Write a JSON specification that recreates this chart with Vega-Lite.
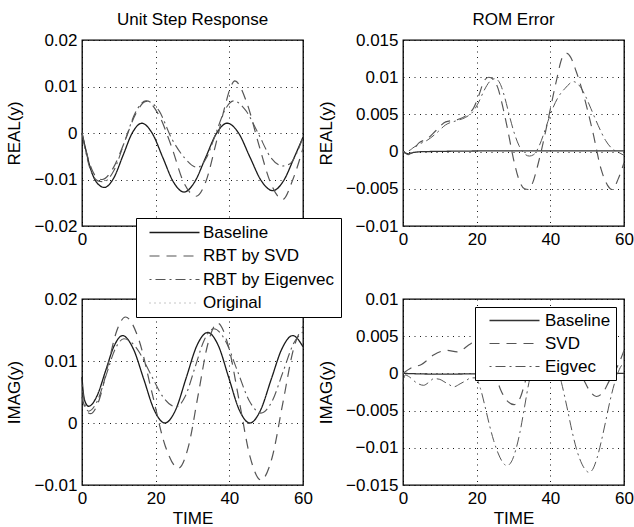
{
  "$schema": "https://vega.github.io/schema/vega-lite/v6.json",
  "padding": {"left": 5, "top": 10, "right": 0, "bottom": 0},
  "background": "white",
  "config": {
    "font": "Liberation Sans",
    "view": {"stroke": "#000", "strokeWidth": 1.3},
    "axis": {"grid": true, "gridColor": "#000", "gridDash": [1, 4.5], "gridWidth": 1, "gridOpacity": 0.9, "ticks": false, "tickSize": 0, "domain": false, "labelFontSize": 17, "labelColor": "#000", "labelPadding": 5, "labelFlush": false, "labelOverlap": false, "titleFontSize": 17, "titleFontWeight": "normal", "titleColor": "#000", "labelExpr": "format(datum.value, '~g')"},
    "axisY": {"titlePadding": 10},
    "axisX": {"titlePadding": 4},
    "title": {"fontSize": 17, "fontWeight": "normal", "color": "#000", "offset": 2},
    "legend": {"title": null, "labelFontSize": 17, "labelColor": "#000", "fillColor": "white", "strokeColor": "#000", "symbolType": "M-5,0H5", "symbolSize": 100, "symbolStrokeWidth": 1.2, "cornerRadius": 0}
  },
  "datasets": {
    "ul": [
      {"s":"Baseline","t":0,"v":0},{"s":"Baseline","t":1,"v":-0.0035},{"s":"Baseline","t":2,"v":-0.0068},{"s":"Baseline","t":3,"v":-0.0092},{"s":"Baseline","t":4.5,"v":-0.0111},{"s":"Baseline","t":6.1,"v":-0.0117},{"s":"Baseline","t":8.6,"v":-0.0097},{"s":"Baseline","t":11.15,"v":-0.0048},{"s":"Baseline","t":13.7,"v":0.0001},{"s":"Baseline","t":16.2,"v":0.0021},{"s":"Baseline","t":19.1,"v":-0.0001},{"s":"Baseline","t":21.95,"v":-0.0053},{"s":"Baseline","t":24.8,"v":-0.0105},{"s":"Baseline","t":27.7,"v":-0.0127},{"s":"Baseline","t":30.6,"v":-0.0105},{"s":"Baseline","t":33.55,"v":-0.0053},{"s":"Baseline","t":36.5,"v":-0.0001},{"s":"Baseline","t":39.4,"v":0.0021},{"s":"Baseline","t":42.5,"v":0},{"s":"Baseline","t":45.6,"v":-0.0052},{"s":"Baseline","t":48.7,"v":-0.0103},{"s":"Baseline","t":51.8,"v":-0.0124},{"s":"Baseline","t":54.7,"v":-0.0103},{"s":"Baseline","t":57.65,"v":-0.0052},{"s":"Baseline","t":60,"v":-0.0009},
      {"s":"RBT by SVD","t":0,"v":0},{"s":"RBT by SVD","t":1,"v":-0.0035},{"s":"RBT by SVD","t":2,"v":-0.0064},{"s":"RBT by SVD","t":3,"v":-0.0084},{"s":"RBT by SVD","t":4.2,"v":-0.0097},{"s":"RBT by SVD","t":5.5,"v":-0.01},{"s":"RBT by SVD","t":8.5,"v":-0.0075},{"s":"RBT by SVD","t":11.5,"v":-0.002},{"s":"RBT by SVD","t":14.5,"v":0.004},{"s":"RBT by SVD","t":17.5,"v":0.0068},{"s":"RBT by SVD","t":20.9,"v":0.0038},{"s":"RBT by SVD","t":24.25,"v":-0.0028},{"s":"RBT by SVD","t":27.6,"v":-0.0106},{"s":"RBT by SVD","t":31,"v":-0.0136},{"s":"RBT by SVD","t":33.6,"v":-0.0105},{"s":"RBT by SVD","t":36.3,"v":-0.0025},{"s":"RBT by SVD","t":38.9,"v":0.006},{"s":"RBT by SVD","t":40.3,"v":0.0098},{"s":"RBT by SVD","t":41.5,"v":0.0112},{"s":"RBT by SVD","t":44.75,"v":0.0065},{"s":"RBT by SVD","t":48,"v":-0.0025},{"s":"RBT by SVD","t":51.25,"v":-0.0108},{"s":"RBT by SVD","t":54.5,"v":-0.0143},{"s":"RBT by SVD","t":57.25,"v":-0.01},{"s":"RBT by SVD","t":60,"v":-0.0033},
      {"s":"RBT by Eigenvec","t":0,"v":0},{"s":"RBT by Eigenvec","t":1,"v":-0.004},{"s":"RBT by Eigenvec","t":2,"v":-0.0072},{"s":"RBT by Eigenvec","t":3,"v":-0.0092},{"s":"RBT by Eigenvec","t":4.3,"v":-0.0103},{"s":"RBT by Eigenvec","t":5.8,"v":-0.0105},{"s":"RBT by Eigenvec","t":8.7,"v":-0.008},{"s":"RBT by Eigenvec","t":11.6,"v":-0.0018},{"s":"RBT by Eigenvec","t":14.5,"v":0.0044},{"s":"RBT by Eigenvec","t":17.4,"v":0.0069},{"s":"RBT by Eigenvec","t":20.9,"v":0.0048},{"s":"RBT by Eigenvec","t":24.35,"v":-0.0012},{"s":"RBT by Eigenvec","t":27.8,"v":-0.0053},{"s":"RBT by Eigenvec","t":31.3,"v":-0.0074},{"s":"RBT by Eigenvec","t":33.8,"v":-0.0053},{"s":"RBT by Eigenvec","t":36.25,"v":-0.0003},{"s":"RBT by Eigenvec","t":38.7,"v":0.0048},{"s":"RBT by Eigenvec","t":41.2,"v":0.0069},{"s":"RBT by Eigenvec","t":44.5,"v":0.0048},{"s":"RBT by Eigenvec","t":47.85,"v":-0.0001},{"s":"RBT by Eigenvec","t":51.2,"v":-0.0052},{"s":"RBT by Eigenvec","t":54.5,"v":-0.0071},{"s":"RBT by Eigenvec","t":56.5,"v":-0.0066},{"s":"RBT by Eigenvec","t":58,"v":-0.0048},{"s":"RBT by Eigenvec","t":60,"v":-0.0009}
    ],
    "ur": [
      {"s":"Baseline","t":0,"v":0},{"s":"Baseline","t":1.5,"v":-0.0003},{"s":"Baseline","t":3,"v":-0.0001},{"s":"Baseline","t":6,"v":0},{"s":"Baseline","t":30,"v":0.0001},{"s":"Baseline","t":60,"v":0.0001},
      {"s":"SVD","t":0,"v":0},{"s":"SVD","t":1.5,"v":-0.0004},{"s":"SVD","t":3,"v":0.0004},{"s":"SVD","t":4.4,"v":0.0012},{"s":"SVD","t":6.5,"v":0.0017},{"s":"SVD","t":8.9,"v":0.0028},{"s":"SVD","t":11.6,"v":0.004},{"s":"SVD","t":14.8,"v":0.0043},{"s":"SVD","t":17,"v":0.0048},{"s":"SVD","t":19.2,"v":0.0059},{"s":"SVD","t":20.7,"v":0.0077},{"s":"SVD","t":22,"v":0.0095},{"s":"SVD","t":23.3,"v":0.01},{"s":"SVD","t":24.5,"v":0.0097},{"s":"SVD","t":25.8,"v":0.0085},{"s":"SVD","t":27,"v":0.0062},{"s":"SVD","t":28.4,"v":0.003},{"s":"SVD","t":30,"v":-0.001},{"s":"SVD","t":31.5,"v":-0.0038},{"s":"SVD","t":33,"v":-0.005},{"s":"SVD","t":34,"v":-0.0051},{"s":"SVD","t":35.2,"v":-0.0042},{"s":"SVD","t":36.5,"v":-0.002},{"s":"SVD","t":37.5,"v":0},{"s":"SVD","t":39.7,"v":0.005},{"s":"SVD","t":41.5,"v":0.0092},{"s":"SVD","t":43.4,"v":0.0128},{"s":"SVD","t":44.5,"v":0.0132},{"s":"SVD","t":45.5,"v":0.0127},{"s":"SVD","t":47,"v":0.0108},{"s":"SVD","t":48.8,"v":0.008},{"s":"SVD","t":51.5,"v":0.0027},{"s":"SVD","t":53.8,"v":-0.0024},{"s":"SVD","t":55.5,"v":-0.0045},{"s":"SVD","t":56.8,"v":-0.0051},{"s":"SVD","t":58.4,"v":-0.0037},{"s":"SVD","t":60,"v":-0.0015},
      {"s":"Eigvec","t":0,"v":0},{"s":"Eigvec","t":1.5,"v":0.0001},{"s":"Eigvec","t":3,"v":0.0006},{"s":"Eigvec","t":4.4,"v":0.001},{"s":"Eigvec","t":6.5,"v":0.0015},{"s":"Eigvec","t":8.9,"v":0.0024},{"s":"Eigvec","t":11.6,"v":0.0036},{"s":"Eigvec","t":14.8,"v":0.0042},{"s":"Eigvec","t":17,"v":0.0046},{"s":"Eigvec","t":19.2,"v":0.0055},{"s":"Eigvec","t":20.7,"v":0.0068},{"s":"Eigvec","t":22,"v":0.0082},{"s":"Eigvec","t":23.5,"v":0.0094},{"s":"Eigvec","t":25,"v":0.0098},{"s":"Eigvec","t":26.3,"v":0.0092},{"s":"Eigvec","t":27.5,"v":0.0075},{"s":"Eigvec","t":28.8,"v":0.005},{"s":"Eigvec","t":30.2,"v":0.0025},{"s":"Eigvec","t":31.5,"v":0.0008},{"s":"Eigvec","t":32.8,"v":-0.0002},{"s":"Eigvec","t":34.3,"v":-0.0006},{"s":"Eigvec","t":35.5,"v":-0.0004},{"s":"Eigvec","t":37,"v":0.0008},{"s":"Eigvec","t":38.5,"v":0.0028},{"s":"Eigvec","t":40,"v":0.005},{"s":"Eigvec","t":42,"v":0.0072},{"s":"Eigvec","t":44,"v":0.0085},{"s":"Eigvec","t":46.3,"v":0.0094},{"s":"Eigvec","t":48,"v":0.0088},{"s":"Eigvec","t":49.5,"v":0.0075},{"s":"Eigvec","t":51,"v":0.0058},{"s":"Eigvec","t":53,"v":0.0035},{"s":"Eigvec","t":55,"v":0.0015},{"s":"Eigvec","t":57,"v":0.0003},{"s":"Eigvec","t":58.5,"v":-0.0001},{"s":"Eigvec","t":60,"v":-0.0005}
    ],
    "ll": [
      {"s":"Baseline","t":0,"v":0.0074},{"s":"Baseline","t":0.3,"v":0.0052},{"s":"Baseline","t":0.8,"v":0.0035},{"s":"Baseline","t":1.8,"v":0.0027},{"s":"Baseline","t":4.1,"v":0.0044},{"s":"Baseline","t":6.4,"v":0.0084},{"s":"Baseline","t":8.7,"v":0.0124},{"s":"Baseline","t":11,"v":0.0141},{"s":"Baseline","t":13.9,"v":0.012},{"s":"Baseline","t":16.75,"v":0.0071},{"s":"Baseline","t":19.6,"v":0.0021},{"s":"Baseline","t":22.5,"v":0},{"s":"Baseline","t":25.4,"v":0.0021},{"s":"Baseline","t":28.3,"v":0.0073},{"s":"Baseline","t":31.2,"v":0.0125},{"s":"Baseline","t":34.1,"v":0.0146},{"s":"Baseline","t":37,"v":0.0125},{"s":"Baseline","t":39.85,"v":0.0073},{"s":"Baseline","t":42.7,"v":0.0021},{"s":"Baseline","t":45.6,"v":0},{"s":"Baseline","t":48.5,"v":0.0021},{"s":"Baseline","t":51.4,"v":0.0071},{"s":"Baseline","t":54.3,"v":0.012},{"s":"Baseline","t":57.2,"v":0.0141},{"s":"Baseline","t":60,"v":0.0123},
      {"s":"RBT by SVD","t":0,"v":0.0042},{"s":"RBT by SVD","t":1,"v":0.0022},{"s":"RBT by SVD","t":2.3,"v":0.0015},{"s":"RBT by SVD","t":4.7,"v":0.0038},{"s":"RBT by SVD","t":7.05,"v":0.0093},{"s":"RBT by SVD","t":9.4,"v":0.0148},{"s":"RBT by SVD","t":11.8,"v":0.0171},{"s":"RBT by SVD","t":15.4,"v":0.0135},{"s":"RBT by SVD","t":19,"v":0.0049},{"s":"RBT by SVD","t":22.6,"v":-0.0037},{"s":"RBT by SVD","t":26.2,"v":-0.0073},{"s":"RBT by SVD","t":28.85,"v":-0.0039},{"s":"RBT by SVD","t":31.5,"v":0.0044},{"s":"RBT by SVD","t":34.15,"v":0.0127},{"s":"RBT by SVD","t":36.8,"v":0.0161},{"s":"RBT by SVD","t":39.75,"v":0.0124},{"s":"RBT by SVD","t":42.7,"v":0.0035},{"s":"RBT by SVD","t":45.65,"v":-0.0055},{"s":"RBT by SVD","t":48.6,"v":-0.0092},{"s":"RBT by SVD","t":51.6,"v":-0.0056},{"s":"RBT by SVD","t":54.55,"v":0.0033},{"s":"RBT by SVD","t":57.5,"v":0.0121},{"s":"RBT by SVD","t":60,"v":0.0156},
      {"s":"RBT by Eigenvec","t":0,"v":0.0062},{"s":"RBT by Eigenvec","t":0.8,"v":0.003},{"s":"RBT by Eigenvec","t":1.8,"v":0.0019},{"s":"RBT by Eigenvec","t":4.2,"v":0.0036},{"s":"RBT by Eigenvec","t":6.6,"v":0.0078},{"s":"RBT by Eigenvec","t":9,"v":0.0119},{"s":"RBT by Eigenvec","t":11.4,"v":0.0136},{"s":"RBT by Eigenvec","t":14.9,"v":0.012},{"s":"RBT by Eigenvec","t":18.45,"v":0.0081},{"s":"RBT by Eigenvec","t":22,"v":0.0042},{"s":"RBT by Eigenvec","t":25.5,"v":0.0026},{"s":"RBT by Eigenvec","t":28.1,"v":0.0044},{"s":"RBT by Eigenvec","t":30.65,"v":0.0089},{"s":"RBT by Eigenvec","t":33.2,"v":0.0134},{"s":"RBT by Eigenvec","t":35.8,"v":0.0152},{"s":"RBT by Eigenvec","t":39,"v":0.0132},{"s":"RBT by Eigenvec","t":42.2,"v":0.0084},{"s":"RBT by Eigenvec","t":45.4,"v":0.0036},{"s":"RBT by Eigenvec","t":48.6,"v":0.0016},{"s":"RBT by Eigenvec","t":51.6,"v":0.0035},{"s":"RBT by Eigenvec","t":54.55,"v":0.0082},{"s":"RBT by Eigenvec","t":57.5,"v":0.0129},{"s":"RBT by Eigenvec","t":60,"v":0.0147}
    ],
    "lr": [
      {"s":"Baseline","t":0,"v":0},{"s":"Baseline","t":10,"v":-0.0001},{"s":"Baseline","t":30,"v":0},{"s":"Baseline","t":60,"v":0},
      {"s":"SVD","t":0,"v":0},{"s":"SVD","t":2.5,"v":0.0008},{"s":"SVD","t":5,"v":0.0012},{"s":"SVD","t":8.4,"v":0.0025},{"s":"SVD","t":12,"v":0.0031},{"s":"SVD","t":14.7,"v":0.0029},{"s":"SVD","t":18.4,"v":0.004},{"s":"SVD","t":20.5,"v":0.0045},{"s":"SVD","t":22.5,"v":0.0032},{"s":"SVD","t":24.5,"v":0.0008},{"s":"SVD","t":26.5,"v":-0.0022},{"s":"SVD","t":28.5,"v":-0.0038},{"s":"SVD","t":30.2,"v":-0.0042},{"s":"SVD","t":31.8,"v":-0.0033},{"s":"SVD","t":33.5,"v":-0.0006},{"s":"SVD","t":35.5,"v":0.002},{"s":"SVD","t":38,"v":0.0038},{"s":"SVD","t":41,"v":0.0042},{"s":"SVD","t":44,"v":0.003},{"s":"SVD","t":46.5,"v":0.001},{"s":"SVD","t":48.8,"v":-0.0006},{"s":"SVD","t":50.5,"v":-0.0022},{"s":"SVD","t":52.5,"v":-0.0031},{"s":"SVD","t":54.5,"v":-0.0024},{"s":"SVD","t":56,"v":-0.001},{"s":"SVD","t":57.5,"v":0.0002},{"s":"SVD","t":59,"v":0.0018},{"s":"SVD","t":60,"v":0.0031},
      {"s":"Eigvec","t":0,"v":-0.0014},{"s":"Eigvec","t":0.6,"v":-0.0002},{"s":"Eigvec","t":1.5,"v":-0.0004},{"s":"Eigvec","t":3.8,"v":-0.0013},{"s":"Eigvec","t":5.6,"v":-0.0016},{"s":"Eigvec","t":7,"v":-0.0012},{"s":"Eigvec","t":8.4,"v":-0.0007},{"s":"Eigvec","t":10,"v":-0.0008},{"s":"Eigvec","t":11.1,"v":-0.0011},{"s":"Eigvec","t":12.5,"v":-0.0015},{"s":"Eigvec","t":13.8,"v":-0.0018},{"s":"Eigvec","t":15.5,"v":-0.0014},{"s":"Eigvec","t":17,"v":-0.001},{"s":"Eigvec","t":18.5,"v":-0.0006},{"s":"Eigvec","t":19.7,"v":-0.0006},{"s":"Eigvec","t":21,"v":-0.002},{"s":"Eigvec","t":22.2,"v":-0.0043},{"s":"Eigvec","t":23.4,"v":-0.0068},{"s":"Eigvec","t":24.6,"v":-0.009},{"s":"Eigvec","t":25.8,"v":-0.0107},{"s":"Eigvec","t":27,"v":-0.0119},{"s":"Eigvec","t":28.2,"v":-0.0124},{"s":"Eigvec","t":29.4,"v":-0.0119},{"s":"Eigvec","t":30.6,"v":-0.0103},{"s":"Eigvec","t":31.8,"v":-0.0078},{"s":"Eigvec","t":33,"v":-0.0045},{"s":"Eigvec","t":34.2,"v":-0.0012},{"s":"Eigvec","t":35.5,"v":0.0012},{"s":"Eigvec","t":37.5,"v":0.003},{"s":"Eigvec","t":39.5,"v":0.003},{"s":"Eigvec","t":41.5,"v":0.0012},{"s":"Eigvec","t":43,"v":-0.0012},{"s":"Eigvec","t":44.5,"v":-0.0045},{"s":"Eigvec","t":46,"v":-0.008},{"s":"Eigvec","t":47.3,"v":-0.0105},{"s":"Eigvec","t":48.6,"v":-0.0122},{"s":"Eigvec","t":49.6,"v":-0.013},{"s":"Eigvec","t":50.5,"v":-0.0133},{"s":"Eigvec","t":51.5,"v":-0.0129},{"s":"Eigvec","t":52.6,"v":-0.0115},{"s":"Eigvec","t":53.8,"v":-0.0092},{"s":"Eigvec","t":55,"v":-0.0065},{"s":"Eigvec","t":56.2,"v":-0.0037},{"s":"Eigvec","t":57.5,"v":-0.0012},{"s":"Eigvec","t":58.7,"v":0.0005},{"s":"Eigvec","t":60,"v":0.0015}
    ]
  },
  "columns": 2,
  "spacing": {"row": 73, "column": 100},
  "bounds": "flush",
  "resolve": {
    "scale": {"color": "independent", "strokeDash": "independent", "strokeWidth": "independent"},
    "legend": {"color": "independent", "strokeDash": "independent", "strokeWidth": "independent"}
  },
  "concat": [
    {
      "title": "Unit Step Response",
      "width": 221, "height": 186,
      "data": {"name": "ul"},
      "mark": {"type": "line", "interpolate": "monotone"},
      "encoding": {
        "x": {"field": "t", "type": "quantitative", "scale": {"domain": [0, 60], "nice": false}, "axis": {"values": [0, 20, 40, 60], "title": null, "labelExpr": "datum.value == 0 ? '0' : ''"}},
        "y": {"field": "v", "type": "quantitative", "scale": {"domain": [-0.02, 0.02], "nice": false, "zero": false}, "axis": {"values": [-0.02, -0.01, 0, 0.01, 0.02], "title": "REAL(y)"}},
        "color": {"field": "s", "type": "nominal", "scale": {"domain": ["Baseline", "RBT by SVD", "RBT by Eigenvec", "Original"], "range": ["#1a1a1a", "#555555", "#555555", "#8c8c8c"]}, "legend": null},
        "strokeDash": {"field": "s", "type": "nominal", "scale": {"domain": ["Baseline", "RBT by SVD", "RBT by Eigenvec", "Original"], "range": [[1, 0], [10, 7], [2, 4, 10, 4], [1, 4]]}, "legend": null},
        "strokeWidth": {"field": "s", "type": "nominal", "scale": {"domain": ["Baseline", "RBT by SVD", "RBT by Eigenvec", "Original"], "range": [1.3, 1, 1, 1]}, "legend": null}
      }
    },
    {
      "title": "ROM Error",
      "width": 221, "height": 186,
      "data": {"name": "ur"},
      "mark": {"type": "line", "interpolate": "monotone"},
      "encoding": {
        "x": {"field": "t", "type": "quantitative", "scale": {"domain": [0, 60], "nice": false}, "axis": {"values": [0, 20, 40, 60], "title": null}},
        "y": {"field": "v", "type": "quantitative", "scale": {"domain": [-0.01, 0.015], "nice": false, "zero": false}, "axis": {"values": [-0.01, -0.005, 0, 0.005, 0.01, 0.015], "title": "REAL(y)"}},
        "color": {"field": "s", "type": "nominal", "scale": {"domain": ["Baseline", "SVD", "Eigvec"], "range": ["#333333", "#555555", "#555555"]}, "legend": null},
        "strokeDash": {"field": "s", "type": "nominal", "scale": {"domain": ["Baseline", "SVD", "Eigvec"], "range": [[1, 0], [10, 7], [2, 4, 10, 4]]}, "legend": null},
        "strokeWidth": {"field": "s", "type": "nominal", "scale": {"domain": ["Baseline", "SVD", "Eigvec"], "range": [1.3, 1, 1]}, "legend": null}
      }
    },
    {
      "width": 221, "height": 186,
      "data": {"name": "ll"},
      "mark": {"type": "line", "interpolate": "monotone"},
      "encoding": {
        "x": {"field": "t", "type": "quantitative", "scale": {"domain": [0, 60], "nice": false}, "axis": {"values": [0, 20, 40, 60], "title": "TIME"}},
        "y": {"field": "v", "type": "quantitative", "scale": {"domain": [-0.01, 0.02], "nice": false, "zero": false}, "axis": {"values": [-0.01, 0, 0.01, 0.02], "title": "IMAG(y)"}},
        "color": {"field": "s", "type": "nominal", "scale": {"domain": ["Baseline", "RBT by SVD", "RBT by Eigenvec", "Original"], "range": ["#1a1a1a", "#555555", "#555555", "#8c8c8c"]}, "legend": {"orient": "none", "legendX": 54, "legendY": -81, "zindex": 1, "padding": 6, "rowPadding": 5.5, "symbolOffset": 24, "labelOffset": 20}},
        "strokeDash": {"field": "s", "type": "nominal", "scale": {"domain": ["Baseline", "RBT by SVD", "RBT by Eigenvec", "Original"], "range": [[1, 0], [10, 7], [2, 4, 10, 4], [1, 4]]}, "legend": {"orient": "none", "legendX": 54, "legendY": -81, "zindex": 1, "padding": 6, "rowPadding": 5.5, "symbolOffset": 24, "labelOffset": 20}},
        "strokeWidth": {"field": "s", "type": "nominal", "scale": {"domain": ["Baseline", "RBT by SVD", "RBT by Eigenvec", "Original"], "range": [1.3, 1, 1, 1]}, "legend": null}
      }
    },
    {
      "width": 221, "height": 186,
      "data": {"name": "lr"},
      "mark": {"type": "line", "interpolate": "monotone"},
      "encoding": {
        "x": {"field": "t", "type": "quantitative", "scale": {"domain": [0, 60], "nice": false}, "axis": {"values": [0, 20, 40, 60], "title": "TIME"}},
        "y": {"field": "v", "type": "quantitative", "scale": {"domain": [-0.015, 0.01], "nice": false, "zero": false}, "axis": {"values": [-0.015, -0.01, -0.005, 0, 0.005, 0.01], "title": "IMAG(y)"}},
        "color": {"field": "s", "type": "nominal", "scale": {"domain": ["Baseline", "SVD", "Eigvec"], "range": ["#333333", "#555555", "#555555"]}, "legend": {"orient": "none", "legendX": 72, "legendY": 8, "zindex": 1, "padding": 5, "rowPadding": 5, "symbolOffset": 26, "labelOffset": 22}},
        "strokeDash": {"field": "s", "type": "nominal", "scale": {"domain": ["Baseline", "SVD", "Eigvec"], "range": [[1, 0], [10, 7], [2, 4, 10, 4]]}, "legend": {"orient": "none", "legendX": 72, "legendY": 8, "zindex": 1, "padding": 5, "rowPadding": 5, "symbolOffset": 26, "labelOffset": 22}},
        "strokeWidth": {"field": "s", "type": "nominal", "scale": {"domain": ["Baseline", "SVD", "Eigvec"], "range": [1.3, 1, 1]}, "legend": null}
      }
    }
  ]
}
